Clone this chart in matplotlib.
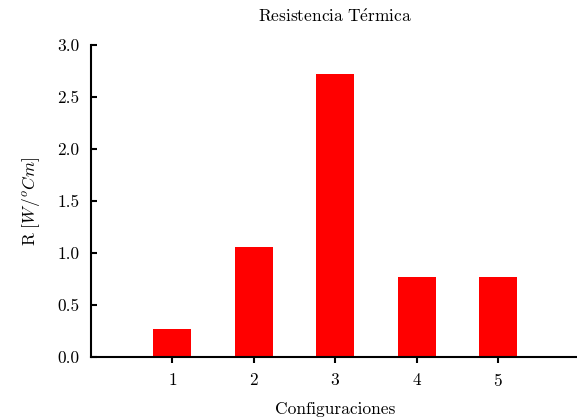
import numpy as np
import matplotlib.pyplot as plt

plt.rcParams["font.family"] = ["cmr10", "DejaVu Serif"]
plt.rcParams["mathtext.fontset"] = "cm"
plt.rcParams["axes.formatter.use_mathtext"] = True

configuraciones = [1, 2, 3, 4, 5]
resistencia = [0.27, 1.06, 2.72, 0.77, 0.77]
y_ticks = [0.0, 0.5, 1.0, 1.5, 2.0, 2.5, 3.0]

fig = plt.figure(figsize=(5.77, 4.18), dpi=100)
ax = fig.add_axes([0.1572, 0.1467, 0.8475, 0.745])

ax.bar(configuraciones, resistencia, width=0.47, color="red")

ax.set_xlim(0, 6)
ax.set_ylim(0, 3.0)
ax.set_xticks(configuraciones)
ax.set_yticks(y_ticks)
ax.set_yticklabels([f"{t:.1f}" for t in y_ticks])

for side in ["top", "right"]:
    ax.spines[side].set_visible(False)
for side in ["left", "bottom"]:
    ax.spines[side].set_linewidth(1.5)

fs = 12.5
ax.tick_params(axis="y", direction="in", length=4, width=1.5, labelsize=fs, pad=8)
ax.tick_params(axis="x", direction="out", length=4, width=1.5, labelsize=fs, pad=7)

ax.set_title(r"$\mathrm{Resistencia\ T\acute{e}rmica}$", fontsize=fs, pad=17)
ax.set_xlabel("Configuraciones", fontsize=fs, labelpad=9)
ax.set_ylabel(r"$\mathrm{R}\ [W/^oCm]$", fontsize=fs, labelpad=11)

fig.savefig("out.png", dpi=100)
